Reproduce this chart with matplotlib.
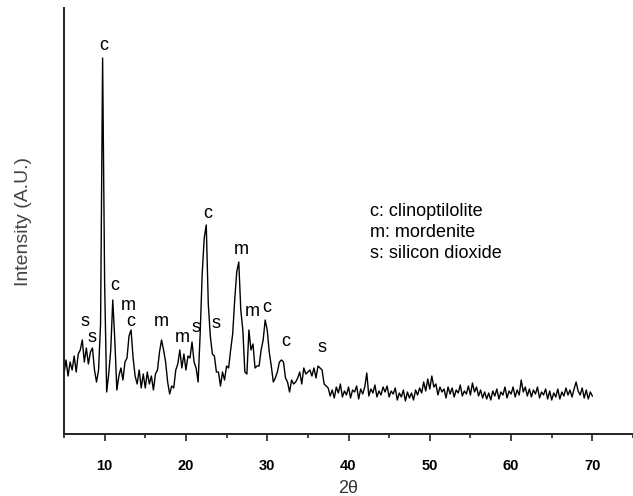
import numpy as np
import matplotlib
matplotlib.use("Agg")
import matplotlib.pyplot as plt
from matplotlib.ticker import MultipleLocator

plt.rcParams["font.family"] = ["Liberation Sans", "DejaVu Sans"]

# XRD pattern, every 0.25 deg (2theta from 5 to 70)
theta_start = 5.0
theta_step = 0.25
intensity = [
    60, 74, 58, 72, 64, 78, 62, 80, 84, 94,        # 5.0
    72, 86, 70, 82, 86, 64, 52, 64, 110, 376,      # 7.5
    150, 42, 60, 84, 134, 94, 44, 58, 66, 54,      # 10.0
    72, 76, 98, 104, 76, 58, 50, 64, 46, 60,       # 12.5
    46, 62, 50, 58, 44, 60, 64, 82, 94, 84,        # 15.0
    72, 52, 40, 48, 46, 64, 70, 84, 66, 80,        # 17.5
    64, 78, 76, 92, 72, 66, 52, 100, 160, 196,     # 20.0
    209, 130, 98, 80, 78, 62, 62, 48, 62, 54,      # 22.5
    68, 66, 84, 100, 134, 162, 172, 124, 104, 62,  # 25.0
    60, 104, 84, 90, 66, 68, 68, 84, 94, 114,      # 27.5
    104, 82, 68, 52, 56, 62, 72, 74, 72, 56,       # 30.0
    52, 42, 54, 50, 52, 56, 62, 50, 66, 60,        # 32.5
    62, 64, 58, 66, 56, 68, 66, 64, 50, 48,        # 35.0
    46, 38, 44, 36, 47, 41, 50, 37, 43, 39,        # 37.5
    47, 36, 44, 42, 48, 35, 45, 40, 47, 61,        # 40.0
    38, 45, 41, 49, 37, 43, 39, 47, 42, 48,        # 42.5
    37, 43, 40, 46, 34, 41, 37, 44, 33, 42,        # 45.0
    36, 41, 34, 44, 39, 46, 41, 52, 43, 55,        # 47.5
    45, 58, 47, 50, 39, 47, 42, 45, 36, 47,        # 50.0
    40, 46, 37, 44, 41, 49, 38, 43, 40, 48,        # 52.5
    39, 51, 42, 47, 38, 44, 36, 42, 35, 41,        # 55.0
    34, 43, 38, 45, 35, 42, 39, 47, 36, 43,        # 57.5
    40, 47, 37, 44, 39, 54, 42, 47, 38, 45,        # 60.0
    37, 44, 40, 47, 36, 42, 39, 45, 35, 43,        # 62.5
    34, 41, 37, 45, 35, 42, 38, 46, 39, 44,        # 65.0
    37, 45, 52, 43, 39, 46, 36, 44, 35, 42,        # 67.5
    38,                                            # 70.0
]
two_theta = theta_start + theta_step * np.arange(len(intensity))

# phase labels above the peaks
peak_labels = ["s", "s", "c", "c", "m", "c", "m", "m", "s", "c", "s", "m", "m", "c", "c", "s"]
peak_x = [7.6, 8.45, 9.9, 11.25, 12.85, 13.2, 17.0, 19.6, 21.3, 22.65, 23.75, 26.8, 28.2, 29.9, 32.3, 36.7]
peak_y = [112, 97, 389, 149, 129, 113, 113, 97, 107, 221, 111, 184, 122, 127, 92, 87]

legend_lines = ["c: clinoptilolite", "m: mordenite", "s: silicon dioxide"]

fig = plt.figure(figsize=(6.33, 4.96), dpi=100)
ax = fig.add_axes([64 / 633, 62 / 496, 1 - 64 / 633, 426 / 496])

ax.plot(two_theta, intensity, color="black", lw=1.0)

for lab, x, y in zip(peak_labels, peak_x, peak_y):
    ax.text(x, y, lab, fontsize=13, ha="center", va="center")

for i, line in enumerate(legend_lines):
    ax.text(42.6, 223 - i * 21.5, line, fontsize=13, ha="left", va="center")

ax.set_xlim(5, 75)
ax.set_ylim(0, 426)
ax.spines["top"].set_visible(False)
ax.spines["right"].set_visible(False)
for s in ["left", "bottom"]:
    ax.spines[s].set_linewidth(1.4)
    ax.spines[s].set_color("#222222")

ax.xaxis.set_major_locator(MultipleLocator(10))
ax.xaxis.set_minor_locator(MultipleLocator(5))
ax.tick_params(axis="x", which="major", length=5, width=1.2, color="#222222", pad=13)
ax.tick_params(axis="x", which="minor", length=3, width=1.2, color="#222222")
ax.set_yticks([])
for t in ax.get_xticklabels():
    t.set_fontweight("bold")
    t.set_fontsize(10.5)

ax.set_xlabel("2\u03b8", fontsize=13, color="#333333", labelpad=5)
ax.set_ylabel("Intensity (A.U.)", fontsize=14, color="#444444", labelpad=23)

fig.savefig("out.png", dpi=100)
